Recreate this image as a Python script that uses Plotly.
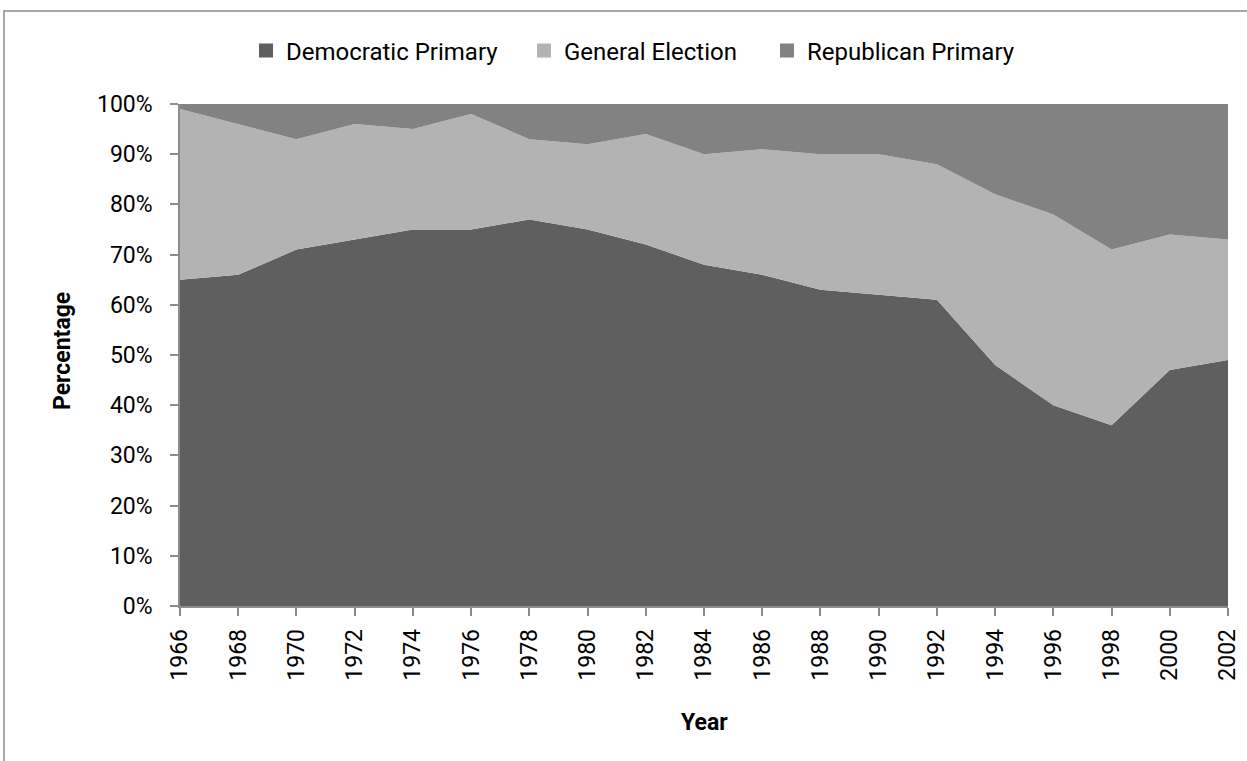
import plotly.graph_objects as go

years = [1966, 1968, 1970, 1972, 1974, 1976, 1978, 1980, 1982, 1984,
         1986, 1988, 1990, 1992, 1994, 1996, 1998, 2000, 2002]
democratic_primary = [65, 66, 71, 73, 75, 75, 77, 75, 72, 68,
                      66, 63, 62, 61, 48, 40, 36, 47, 49]
general_election = [34, 30, 22, 23, 20, 23, 16, 17, 22, 22,
                    25, 27, 28, 27, 34, 38, 35, 27, 24]
republican_primary = [1, 4, 7, 4, 5, 2, 7, 8, 6, 10,
                      9, 10, 10, 12, 18, 22, 29, 26, 27]
y_ticks = list(range(0, 101, 10))
y_tick_labels = [f"{v}%" for v in y_ticks]

series = [
    ("Democratic Primary", democratic_primary, "#5f5f5f"),
    ("General Election", general_election, "#b3b3b3"),
    ("Republican Primary", republican_primary, "#828282"),
]

FONT = "Roboto, 'Open Sans', sans-serif"
AXIS_GRAY = "#8c8c8c"
PLOT_L, PLOT_W, PLOT_B, PLOT_H = 180, 1048, 606, 502

# one legend box per series so each entry sits at its own spot
legend_ids = ["legend", "legend2", "legend3"]
legend_left_px = [246, 524, 767]

fig = go.Figure()
for name, vals, color in series:
    # stacked area, normalised to 100 %
    fig.add_trace(go.Scatter(
        x=years, y=vals, name=name, mode="lines",
        stackgroup="one", groupnorm="percent",
        line=dict(width=0, color=color), fillcolor=color,
        showlegend=False,
    ))
for (name, vals, color), lid in zip(series, legend_ids):
    # square swatches for the legend
    fig.add_trace(go.Scatter(
        x=[None], y=[None], name=name, mode="markers",
        marker=dict(symbol="square", size=14, color=color),
        showlegend=True, legend=lid,
    ))

legend_style = dict(orientation="h", y=(PLOT_B - 51) / PLOT_H, xanchor="left",
                    yanchor="middle", font=dict(size=24), itemwidth=30,
                    bgcolor="rgba(0,0,0,0)")

fig.update_layout(
    width=1247, height=761,
    margin=dict(l=PLOT_L, r=19, t=104, b=155),
    paper_bgcolor="white", plot_bgcolor="white",
    font=dict(family=FONT, size=23, color="black"),
    xaxis=dict(
        range=[1966, 2002], tickmode="array", tickvals=years,
        ticktext=[str(y) for y in years], tickangle=-90,
        showgrid=False, zeroline=False, showline=True, linecolor=AXIS_GRAY,
        linewidth=1.5, ticks="outside", ticklen=8, tickcolor=AXIS_GRAY,
        tickwidth=1.5, ticklabelstandoff=4, automargin=False,
    ),
    yaxis=dict(
        range=[0, 100], tickmode="array", tickvals=y_ticks, ticktext=y_tick_labels,
        showgrid=False, zeroline=False, showline=True, linecolor=AXIS_GRAY,
        linewidth=1.5, ticks="outside", ticklen=8, tickcolor=AXIS_GRAY,
        tickwidth=1.5, ticklabelstandoff=13, automargin=False,
    ),
    annotations=[
        dict(text="<b>Year</b>", xref="paper", yref="paper",
             x=(704 - PLOT_L) / PLOT_W, y=(PLOT_B - 722) / PLOT_H,
             xanchor="center", yanchor="middle", showarrow=False,
             font=dict(size=23)),
        dict(text="<b>Percentage</b>", xref="paper", yref="paper",
             x=(62 - PLOT_L) / PLOT_W, y=(PLOT_B - 351) / PLOT_H, textangle=-90,
             xanchor="center", yanchor="middle", showarrow=False,
             font=dict(size=23)),
    ],
)
for lid, left in zip(legend_ids, legend_left_px):
    fig.update_layout({lid: dict(legend_style, x=(left - PLOT_L) / PLOT_W)})

# Outer chart-area border
fig.add_shape(type="rect", xref="paper", yref="paper",
              x0=(4 - PLOT_L) / PLOT_W, x1=1.05, y0=-0.35, y1=(PLOT_B - 11) / PLOT_H,
              line=dict(color=AXIS_GRAY, width=1.5), fillcolor="rgba(0,0,0,0)",
              layer="below")

fig.write_html("out.html")
